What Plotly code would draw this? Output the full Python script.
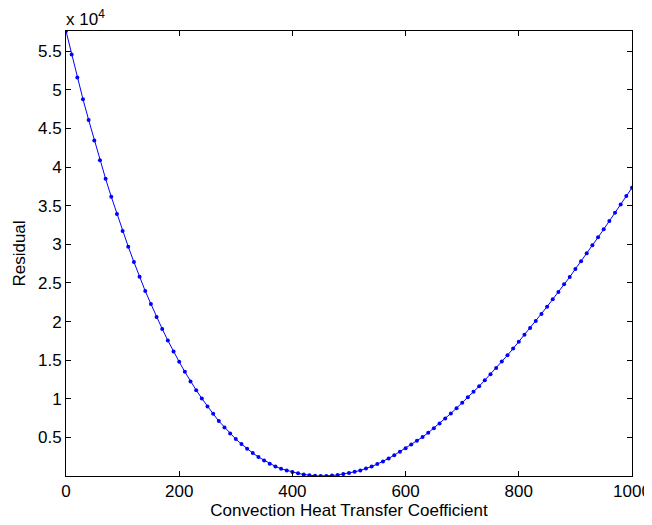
import plotly.graph_objects as go

# Convection heat transfer coefficient (x) and residual (y)
h_values = list(range(0, 1001, 10))
residual = [
    57620, 54570, 51600, 48790, 46110, 43450, 40900, 38480, 36160, 33920,
    31720, 29690, 27710, 25810, 23960, 22280, 20600, 19050, 17540, 16110,
    14780, 13490, 12230, 11120, 10040, 9000, 8060, 7110, 6290, 5510,
    4780, 4140, 3530, 2970, 2460, 2020, 1590, 1240, 940, 720,
    527, 344, 200, 94, 28, 2, 15, 65, 145, 250,
    380, 540, 730, 960, 1230, 1540, 1890, 2280, 2700, 3150,
    3610, 4080, 4560, 5040, 5600, 6200, 6810, 7450, 8100, 8790,
    9480, 10210, 10900, 11630, 12410, 13190, 14000, 14820, 15640, 16500,
    17390, 18300, 19180, 20080, 20990, 21930, 22890, 23830, 24830, 25770,
    26810, 27800, 28830, 29870, 30900, 31940, 33010, 34090, 35170, 36250,
    37330,
]

x_tick_vals = [0, 200, 400, 600, 800, 1000]
x_tick_text = ["0", "200", "400", "600", "800", "1000"]
y_tick_vals = [5000, 10000, 15000, 20000, 25000, 30000, 35000, 40000, 45000, 50000, 55000]
y_tick_text = ["0.5", "1", "1.5", "2", "2.5", "3", "3.5", "4", "4.5", "5", "5.5"]

FONT = "Liberation Sans, Arial, Helvetica, sans-serif"
FS = 17

fig = go.Figure()
fig.add_trace(go.Scatter(
    x=h_values, y=residual, mode="lines+markers",
    line=dict(color="#0000FF", width=1),
    marker=dict(color="#0000FF", size=4),
    showlegend=False,
))

axis_common = dict(
    showline=True, linecolor="black", linewidth=1, mirror="ticks",
    ticks="inside", ticklen=5, tickcolor="black", tickwidth=1,
    showgrid=False, zeroline=False,
    tickfont=dict(family=FONT, size=FS, color="black"),
)

fig.update_layout(
    width=652, height=525,
    margin=dict(l=58, r=28, t=23, b=57),
    paper_bgcolor="white", plot_bgcolor="white",
    font=dict(family=FONT, size=FS, color="black"),
    xaxis=dict(
        range=[0, 1000], tickvals=x_tick_vals, ticktext=x_tick_text,
        title=dict(text="Convection Heat Transfer Coefficient",
                   font=dict(family=FONT, size=FS, color="black"), standoff=2),
        automargin=False,
        **axis_common,
    ),
    yaxis=dict(
        range=[min(residual), max(residual)], tickvals=y_tick_vals, ticktext=y_tick_text,
        title=dict(text="Residual", font=dict(family=FONT, size=FS, color="black"), standoff=8),
        automargin=False,
        **axis_common,
    ),
    annotations=[dict(
        text="x 10<sup>4</sup>", xref="paper", yref="paper", x=0, y=1,
        xanchor="left", yanchor="bottom", showarrow=False, yshift=0, xshift=-2,
        font=dict(family=FONT, size=FS, color="black"),
    )],
)

fig.write_html("out.html")
